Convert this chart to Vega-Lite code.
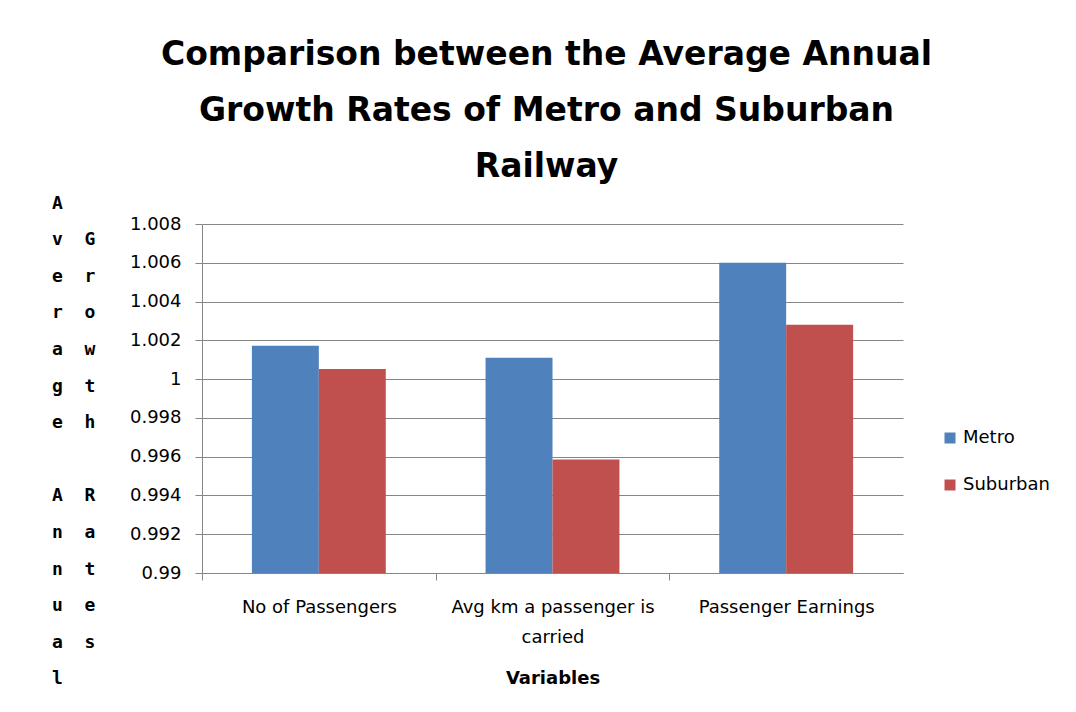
{
  "$schema": "https://vega.github.io/schema/vega-lite/v6.json",
  "width": 701,
  "height": 349,
  "autosize": "none",
  "padding": {"left": 202, "top": 224, "right": 173, "bottom": 139},
  "background": "white",
  "title": {
    "text": ["Comparison between the Average Annual", "Growth Rates of Metro and Suburban", "Railway"],
    "font": "DejaVu Sans",
    "fontSize": 33,
    "fontWeight": "bold",
    "color": "#000000",
    "lineHeight": 56,
    "anchor": "middle",
    "frame": "group",
    "offset": 10,
    "dx": -6
  },
  "data": {
    "values": [
      {"variable": "No of Passengers", "series": "Metro", "value": 1.00172},
      {"variable": "No of Passengers", "series": "Suburban", "value": 1.00052},
      {"variable": "Avg km a passenger is carried", "series": "Metro", "value": 1.0011},
      {"variable": "Avg km a passenger is carried", "series": "Suburban", "value": 0.99586},
      {"variable": "Passenger Earnings", "series": "Metro", "value": 1.006},
      {"variable": "Passenger Earnings", "series": "Suburban", "value": 1.0028}
    ]
  },
  "mark": {"type": "bar"},
  "encoding": {
    "x": {
      "field": "variable",
      "type": "nominal",
      "sort": ["No of Passengers", "Avg km a passenger is carried", "Passenger Earnings"],
      "scale": {"paddingInner": 0.427, "paddingOuter": 0.2135},
      "axis": {
        "title": "Variables",
        "titleFont": "DejaVu Sans",
        "titleFontSize": 18,
        "titleFontWeight": "bold",
        "titleColor": "#000000",
        "titlePadding": 23,
        "labelFont": "DejaVu Sans",
        "labelFontSize": 18,
        "labelColor": "#000000",
        "labelAngle": 0,
        "labelBaseline": "top",
        "labelLineHeight": 30,
        "labelPadding": 18,
        "labelLimit": 0,
        "labelExpr": "datum.value == 'Avg km a passenger is carried' ? ['Avg km a passenger is', 'carried'] : datum.label",
        "tickSize": 7,
        "tickColor": "#868686",
        "domainColor": "#868686",
        "tickOffset": -116.83,
        "labelOffset": 116.83,
        "grid": false
      }
    },
    "xOffset": {
      "field": "series",
      "type": "nominal",
      "sort": ["Metro", "Suburban"],
      "scale": {"paddingInner": 0, "paddingOuter": 0}
    },
    "y": {
      "field": "value",
      "type": "quantitative",
      "scale": {"domain": [0.99, 1.008], "nice": false, "zero": false},
      "axis": {
        "title": ["A", "v\u00a0\u00a0G", "e\u00a0\u00a0r", "r\u00a0\u00a0o", "a\u00a0\u00a0w", "g\u00a0\u00a0t", "e\u00a0\u00a0h", "\u2800", "A\u00a0\u00a0R", "n\u00a0\u00a0a", "n\u00a0\u00a0t", "u\u00a0\u00a0e", "a\u00a0\u00a0s", "l"],
        "titleFont": "DejaVu Sans Mono",
        "titleFontSize": 18,
        "titleFontWeight": "bold",
        "titleColor": "#000000",
        "titleAngle": 0,
        "titleAlign": "left",
        "titleBaseline": "top",
        "titleLineHeight": 36.6,
        "titleX": -150.4,
        "titleY": -30,
        "values": [0.99, 0.992, 0.994, 0.996, 0.998, 1, 1.002, 1.004, 1.006, 1.008],
        "format": "~g",
        "labelFont": "DejaVu Sans",
        "labelFontSize": 18,
        "labelColor": "#000000",
        "labelPadding": 14,
        "tickSize": 7,
        "tickColor": "#868686",
        "domainColor": "#868686",
        "grid": true,
        "gridColor": "#868686"
      }
    },
    "y2": {"datum": 0.99},
    "color": {
      "field": "series",
      "type": "nominal",
      "scale": {"domain": ["Metro", "Suburban"], "range": ["#4F81BD", "#C0504D"]},
      "legend": {
        "title": null,
        "orient": "none",
        "legendX": 739,
        "legendY": 205,
        "symbolType": "square",
        "symbolSize": 121,
        "symbolStrokeWidth": 0,
        "labelFont": "DejaVu Sans",
        "labelFontSize": 18,
        "labelColor": "#000000",
        "rowPadding": 29,
        "labelOffset": 4,
        "padding": 0
      }
    }
  },
  "config": {"view": {"stroke": null}}
}
